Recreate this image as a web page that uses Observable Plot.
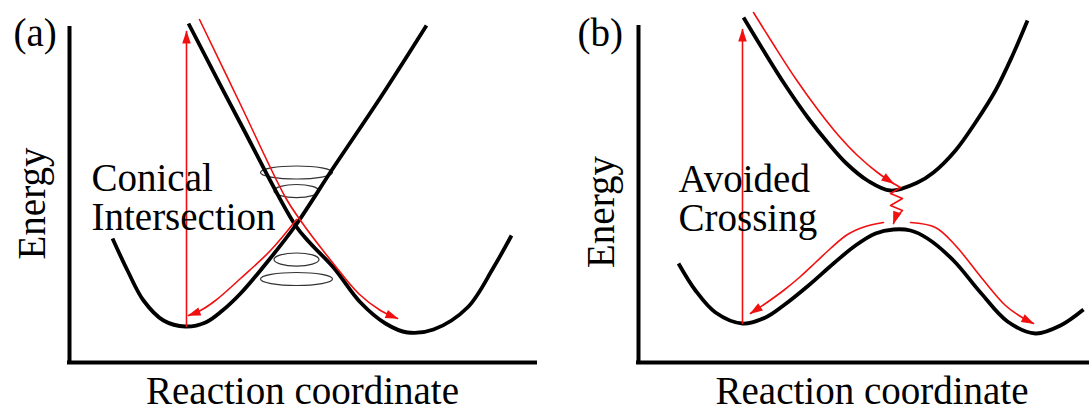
<!DOCTYPE html>
<html><head><meta charset="utf-8">
<script src="https://cdn.jsdelivr.net/npm/d3@7"></script>
<script src="https://cdn.jsdelivr.net/npm/@observablehq/plot@0.6"></script>
<style>
html,body{margin:0;padding:0;background:#fff;}
#wrap{display:flex;width:1089px;height:412px;overflow:hidden;}
#wrap svg{display:block;flex:none;}
</style></head><body><div id="wrap"></div>
<script>
// ---------- Panel (a): conical intersection (arbitrary units) ----------
const aTag = "(a)";
const aNote = "Conical\nIntersection";
const xLabel = "Reaction coordinate";
const yLabel = "Energy";
// surface 1: left well, rising through the intersection
const aSurf1 = [[0.86,2.48],[1.16,1.84],[1.48,1.24],[1.88,0.84],[2.32,0.72],[2.72,0.80],[3.06,1.04],[3.42,1.38],[3.98,2.04],[4.52,2.74],[5.28,3.90],[6.22,5.30],[7.14,6.74]];
// surface 2: falling through the intersection into the right well
const aSurf2 = [[2.38,6.78],[3.42,4.78],[4.52,2.74],[4.82,2.38],[5.28,1.90],[5.82,1.20],[6.32,0.78],[6.76,0.60],[7.28,0.66],[7.96,1.10],[8.48,1.90],[8.84,2.54]];
// red relaxation paths
const aPathDown = [[2.60,6.86],[3.42,5.16],[4.32,3.30],[4.62,2.84],[5.26,2.00],[5.78,1.38],[6.22,1.04],[6.56,0.88]];
const aPathBack = [[4.54,2.86],[4.02,2.24],[3.42,1.68],[2.92,1.24],[2.62,1.04],[2.38,0.94]];
const aExcite = [[2.34,0.72],[2.34,6.62]];
// cone rings around the intersection
const aConeX = 4.54;
const aRingsOuter = [3.80, 1.67];
const aRingsInner = [3.43, 2.06];

// ---------- Panel (b): avoided crossing ----------
const bTag = "(b)";
const bNote = "Avoided\nCrossing";
const bUpper = [[2.10,6.90],[2.50,6.24],[2.94,5.54],[3.40,4.88],[3.80,4.38],[4.16,3.98],[4.58,3.64],[5.04,3.44],[5.58,3.60],[5.90,3.80],[6.34,4.24],[6.74,4.80],[7.14,5.44],[7.48,6.14],[7.78,6.84]];
const bLower = [[0.80,1.98],[1.14,1.44],[1.54,1.00],[2.08,0.78],[2.54,0.90],[2.90,1.14],[3.40,1.54],[3.90,1.98],[4.34,2.34],[4.74,2.58],[5.10,2.66],[5.44,2.64],[5.78,2.48],[6.30,2.04],[6.84,1.40],[7.38,0.82],[7.94,0.58],[8.44,0.74],[8.90,1.06]];
const bPathDown = [[2.30,7.00],[2.70,6.36],[3.14,5.68],[3.60,5.04],[4.00,4.54],[4.38,4.14],[4.78,3.80],[5.10,3.58]];
const bHop = [[5.10,3.58],[5.24,3.50],[5.04,3.38],[5.28,3.28],[5.04,3.14],[5.28,3.04],[5.14,2.90],[5.10,2.78]];
const bPathLeft = [[4.90,2.80],[4.54,2.72],[4.18,2.56],[3.84,2.28],[3.54,2.00],[3.24,1.72],[2.90,1.44],[2.54,1.18],[2.24,0.98]];
const bPathRight = [[5.44,2.80],[5.94,2.70],[6.34,2.34],[6.84,1.72],[7.34,1.14],[7.64,0.92],[7.90,0.78]];
const bExcite = [[2.08,0.78],[2.08,6.66]];

// ---------- helpers ----------
const SERIF = "'Liberation Serif', 'Times New Roman', Times, serif";
const RED = "#f01010";
function ellipse(ratio) {
  return {draw(ctx, size) {
    const rx = Math.sqrt(size / Math.PI), ry = rx * ratio, k = 0.5523;
    ctx.moveTo(rx, 0);
    ctx.bezierCurveTo(rx, ry*k, rx*k, ry, 0, ry);
    ctx.bezierCurveTo(-rx*k, ry, -rx, ry*k, -rx, 0);
    ctx.bezierCurveTo(-rx, -ry*k, -rx*k, -ry, 0, -ry);
    ctx.bezierCurveTo(rx*k, -ry, rx, -ry*k, rx, 0);
    ctx.closePath();
  }};
}
const black = (data) => Plot.line(data, {stroke: "black", strokeWidth: 3.8, curve: "catmull-rom", strokeLinecap: "butt"});
const red = (data, curve = "catmull-rom") => Plot.line(data, {stroke: RED, strokeWidth: 1.6, curve, markerEnd: "arrow"});
const label = (t, o) => Plot.text([t], {text: d => d, fontFamily: SERIF, fontSize: 39, fill: "black", lineAnchor: "bottom", ...o});
const axes = [
  Plot.ruleX([0], {stroke: "black", strokeWidth: 4, strokeLinecap: "square"}),
  Plot.ruleY([0], {stroke: "black", strokeWidth: 4, strokeLinecap: "square"})
];
function solidArrows(svg) {
  d3.select(svg).selectAll("marker").each(function() {
    const m = d3.select(this);
    m.attr("viewBox", "-13 -6 14 12").attr("markerWidth", 14/1.6).attr("markerHeight", 12/1.6)
     .attr("fill", m.attr("stroke")).attr("stroke", "none");
    m.selectAll("path").attr("d", "M-12,-4.3L1,0L-12,4.3Z");
  });
  return svg;
}

const plotA = Plot.plot({
  width: 545, height: 412,
  marginLeft: 69, marginRight: 10, marginTop: 28, marginBottom: 50,
  style: {fontFamily: SERIF},
  x: {domain: [0, 9.32], axis: null},
  y: {domain: [0, 6.68], axis: null},
  marks: [
    ...axes,
    Plot.dot(aRingsOuter, {x: () => aConeX, y: d => d, r: 36, symbol: ellipse(0.18), stroke: "#333", strokeWidth: 1.2, fill: "none"}),
    Plot.dot(aRingsInner, {x: () => aConeX, y: d => d, r: 22.5, symbol: ellipse(0.29), stroke: "#333", strokeWidth: 1.2, fill: "none"}),
    black(aSurf1),
    black(aSurf2),
    red(aExcite, "linear"),
    red(aPathDown),
    red(aPathBack),
    label(aTag, {frameAnchor: "top-left", textAnchor: "start", dx: -56, dy: 17}),
    label(yLabel, {frameAnchor: "left", textAnchor: "middle", rotate: -90, dx: -25, dy: 8}),
    label(aNote, {frameAnchor: "top-left", textAnchor: "start", lineHeight: 1.0, dx: 22, dy: 201}),
    label(xLabel, {frameAnchor: "bottom", textAnchor: "middle", dx: 0, dy: 41})
  ]
});

const plotB = Plot.plot({
  width: 544, height: 412,
  marginLeft: 93, marginRight: 0, marginTop: 27, marginBottom: 50,
  style: {fontFamily: SERIF},
  x: {domain: [0, 9.02], axis: null},
  y: {domain: [0, 6.70], axis: null},
  marks: [
    ...axes,
    black(bUpper),
    black(bLower),
    red(bExcite, "linear"),
    red(bPathDown),
    red(bHop, "linear"),
    red(bPathLeft),
    red(bPathRight),
    label(bTag, {frameAnchor: "top-left", textAnchor: "start", dx: -61, dy: 18}),
    label(yLabel, {frameAnchor: "left", textAnchor: "middle", rotate: -90, dx: -25, dy: 17}),
    label(bNote, {frameAnchor: "top-left", textAnchor: "start", lineHeight: 1.0, dx: 40, dy: 203}),
    label(xLabel, {frameAnchor: "bottom", textAnchor: "middle", dx: 8, dy: 41})
  ]
});

const wrap = document.getElementById("wrap");
wrap.append(solidArrows(plotA), solidArrows(plotB));
</script></body></html>
